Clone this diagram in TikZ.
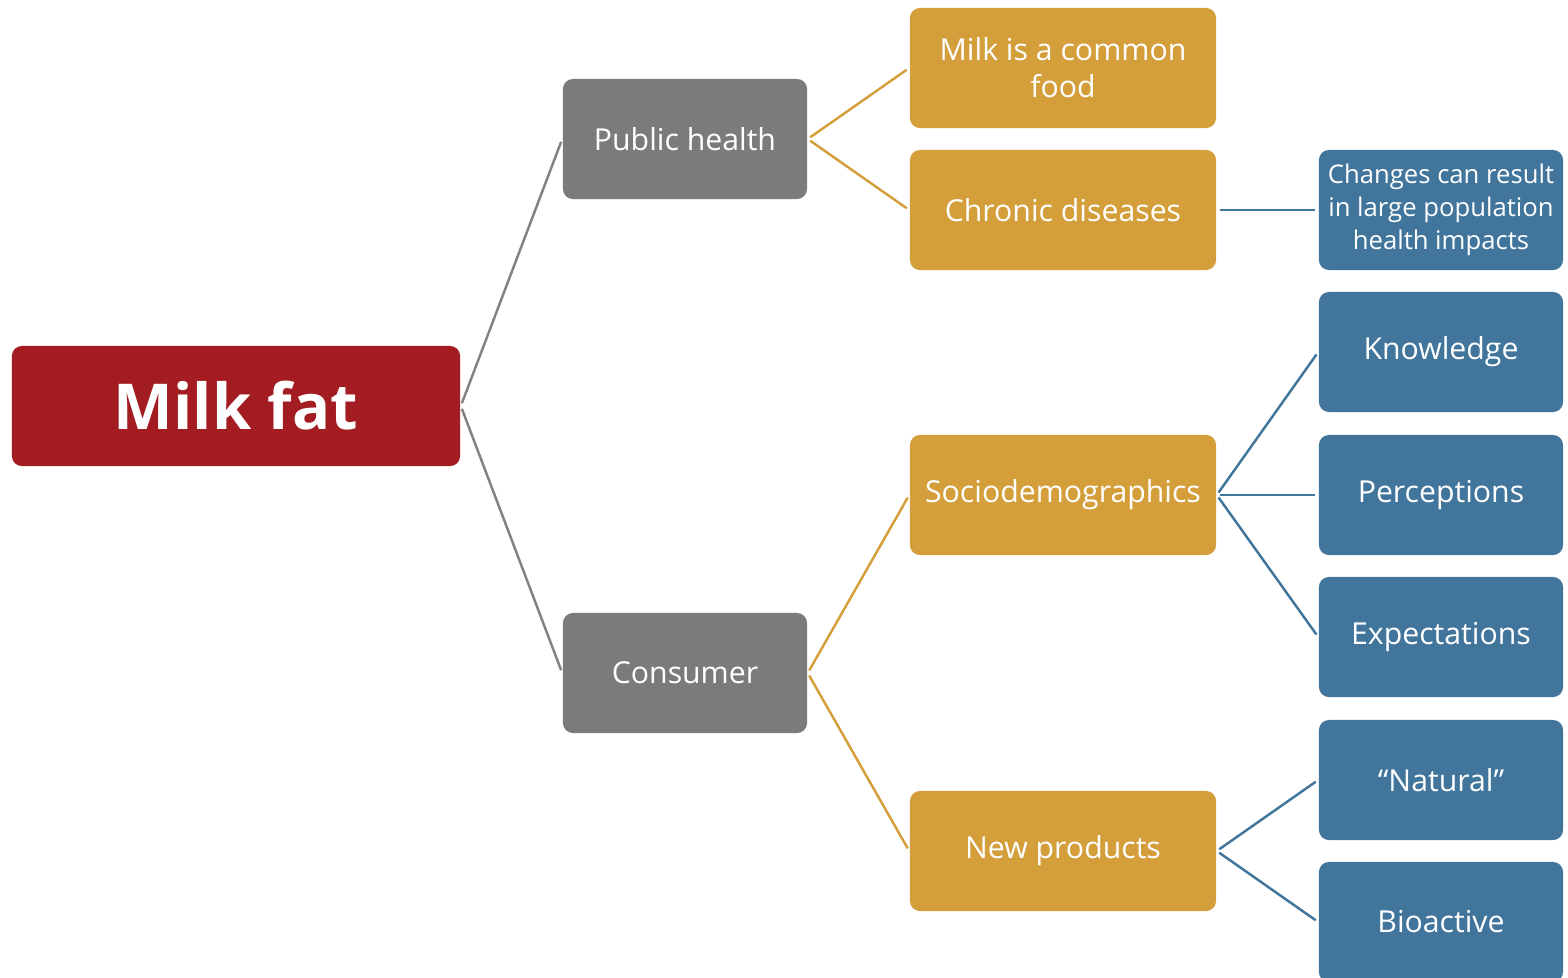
\documentclass[tikz,border=0pt]{standalone}
\usepackage{fontspec}
\setmainfont{Open Sans}
\usepackage{xcolor}
\usepackage{tikz}
\definecolor{rootred}{HTML}{A21C21}
\definecolor{midgray}{HTML}{7B7B7B}
\definecolor{gold}{HTML}{D49F3B}
\definecolor{steel}{HTML}{41759C}

\begin{document}
\begin{tikzpicture}[x=0.01cm, y=-0.01cm,
    box/.style={rounded corners=0.1cm, text=white, align=center,
      minimum height=1.2cm, inner sep=0pt, font=\fontsize{8.6}{10.6}\selectfont},
    rootbox/.style={box, fill=rootred, minimum width=4.48cm, font=\fontsize{18}{22}\selectfont\bfseries},
    graybox/.style={box, fill=midgray, minimum width=2.44cm},
    goldbox/.style={box, fill=gold, minimum width=3.06cm},
    bluebox/.style={box, fill=steel, minimum width=2.44cm},
    link/.style={line width=0.7pt, shorten <=0.03cm, shorten >=0.03cm}]
    \useasboundingbox (0,0) rectangle (1568,978);
    \begin{scope}
      \clip (0,0) rectangle (1568,978);
      % root and first level
      \node[rootbox] (milkfat) at (236,406) {Milk fat};
      \node[graybox] (health) at (685,139) {Public health};
      \node[graybox] (consumer) at (685,673) {Consumer};
      % second level
      \node[goldbox] (common) at (1063,68) {Milk is a common\\food};
      \node[goldbox] (chronic) at (1063,210) {Chronic diseases};
      \node[goldbox] (socio) at (1063,495) {Sociodemographics};
      \node[goldbox] (newprod) at (1063,851) {New products};
      % third level
      \node[bluebox, font=\fontsize{7.3}{9.3}\selectfont] (impacts) at (1441,210)
        {Changes can result\\in large population\\health impacts};
      \foreach \y/\nm/\lbl in {352/know/Knowledge, 495/percep/Perceptions,
          637/expect/Expectations, 780/natural/``Natural'', 922/bioact/Bioactive}
        \node[bluebox] (\nm) at (1441,\y) {\lbl};
    \end{scope}
    % connectors
    \foreach \t in {health, consumer}
      \draw[link, midgray!95] (milkfat.east) -- (\t.west);
    \foreach \s/\t in {health/common, health/chronic, consumer/socio, consumer/newprod}
      \draw[link, gold] (\s.east) -- (\t.west);
    \foreach \s/\t in {chronic/impacts, socio/know, socio/percep, socio/expect,
        newprod/natural, newprod/bioact}
      \draw[link, steel] (\s.east) -- (\t.west);
  \end{tikzpicture}
\end{document}
